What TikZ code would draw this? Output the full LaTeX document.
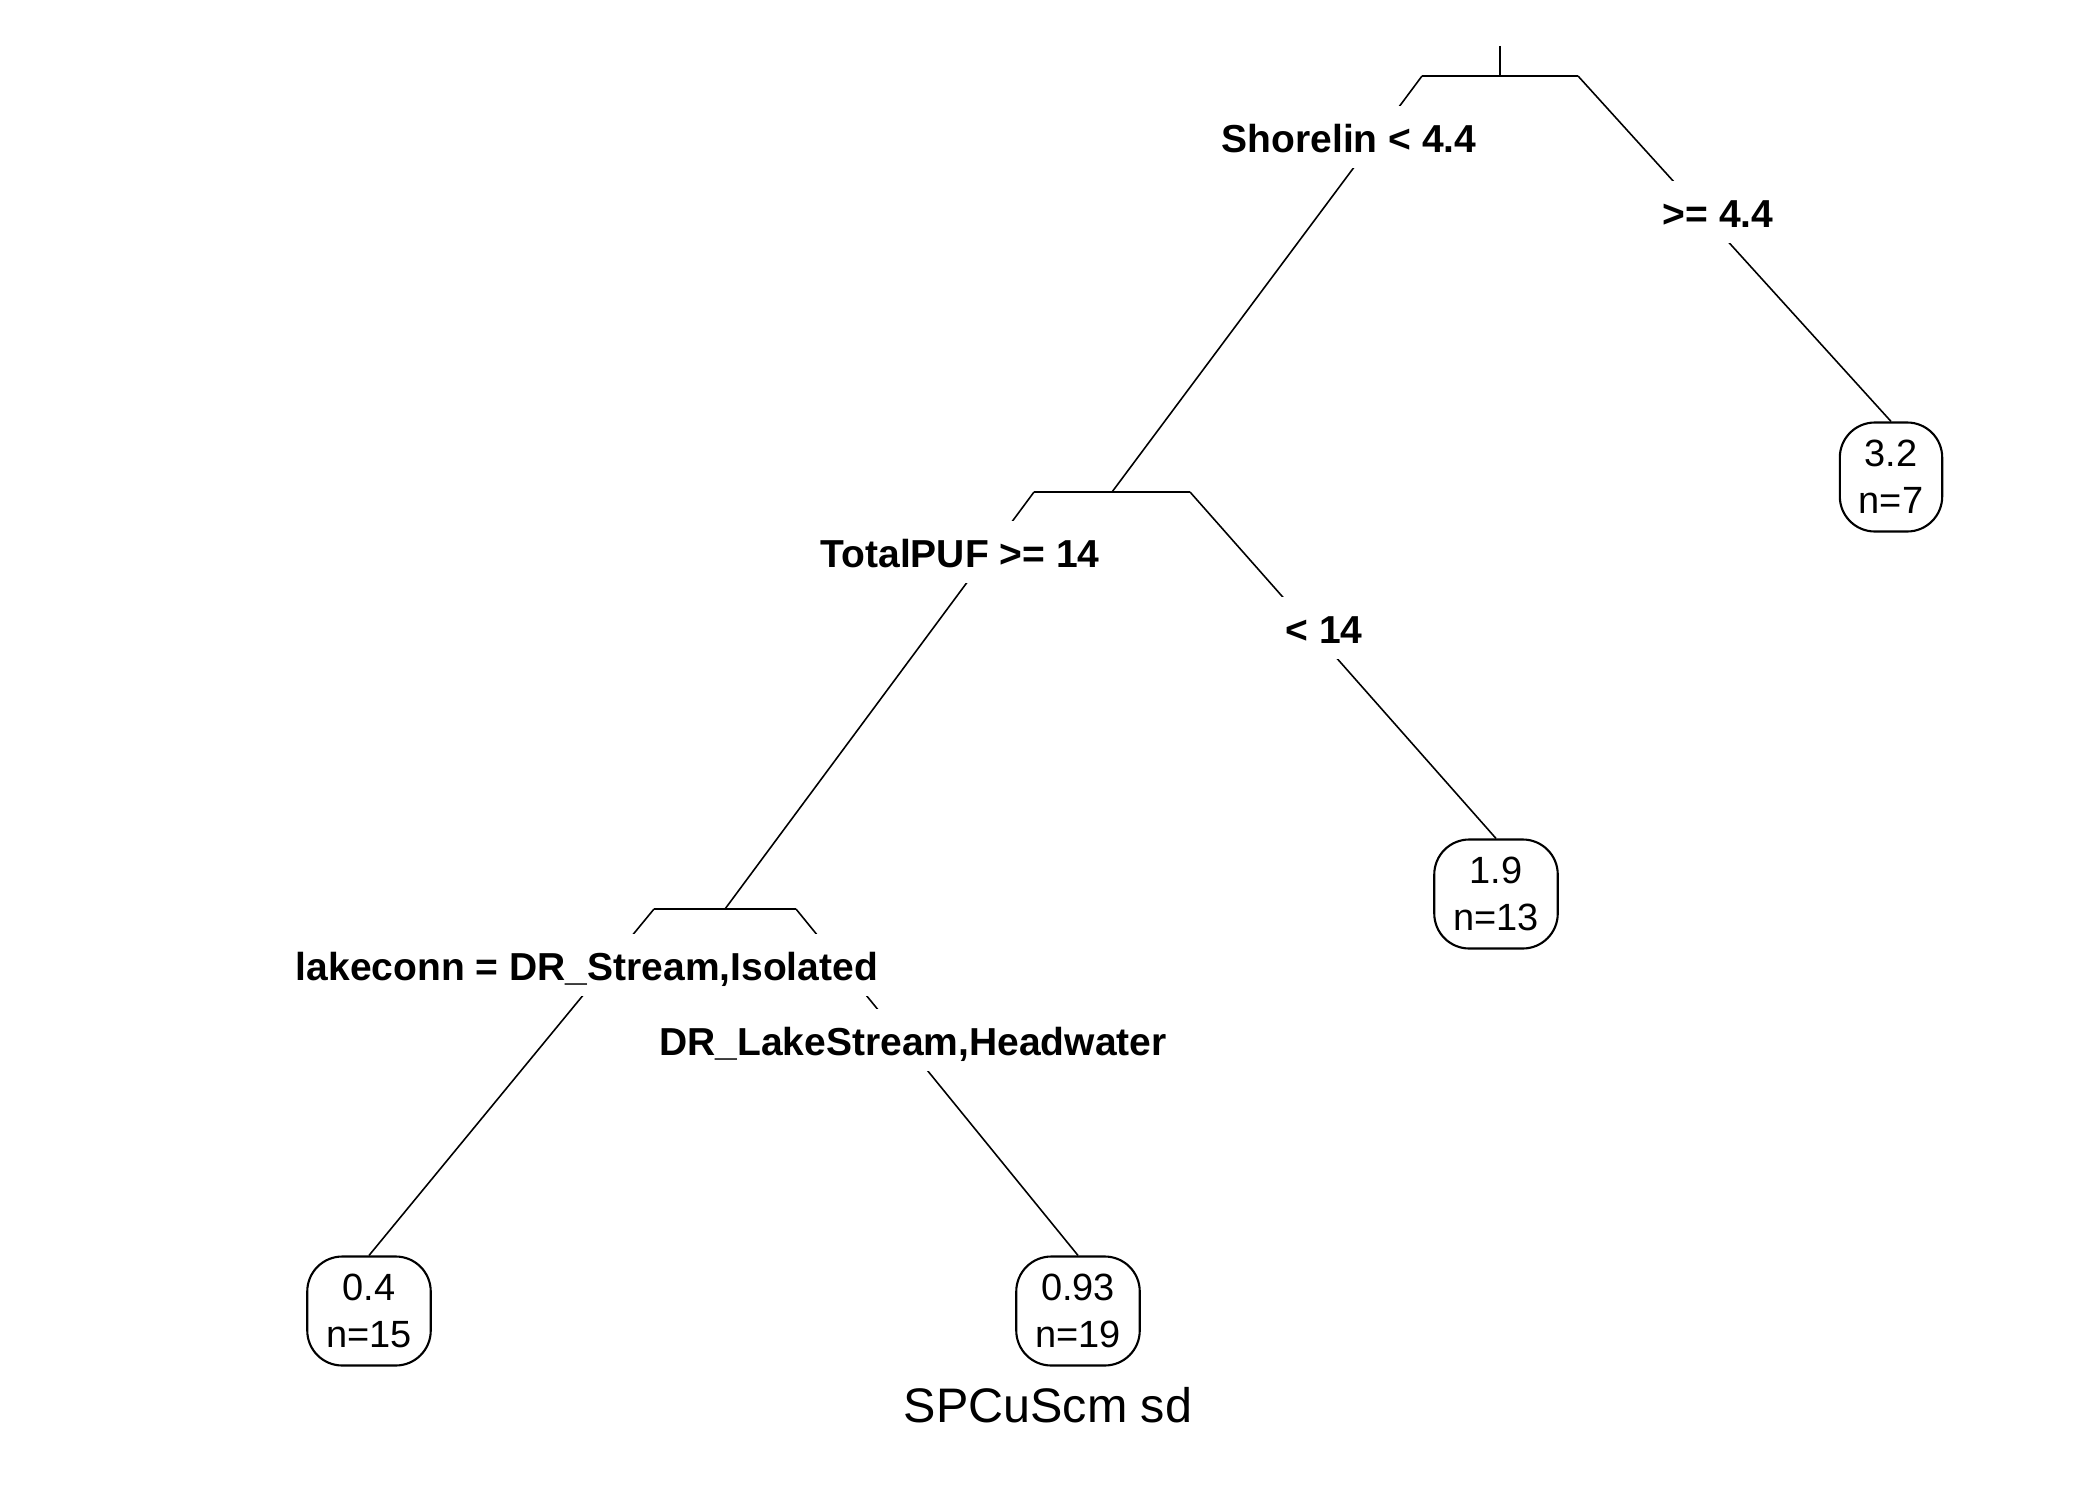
\documentclass[tikz,border=0pt]{standalone}
\usepackage{fontspec}
\setmainfont{Liberation Sans}
\tikzset{
  basic/.style  = {font=\fontsize{11pt}{13.3pt}\selectfont},
  split/.style  = {basic, font=\fontsize{11.1pt}{13.3pt}\selectfont\bfseries, fill=white,
  inner xsep=1mm, inner ysep=1.6mm, text height=3mm, text depth=0pt, anchor=base},
  leaf/.style   = {draw, line width=0.6pt, rounded corners=3.5mm, fill=white, align=center,
  font=\fontsize{10.8pt}{13.4pt}\selectfont, inner xsep=1.9mm, minimum height=10.9mm},
  bar/.style    = {line width=0.6pt},
  branch/.style = {line width=0.45pt}
}

\begin{document}
\begin{tikzpicture}[x=0.1mm, y=-0.1mm]
    \fill[white] (0,0) rectangle (2100,1500);
    \useasboundingbox (0,0) rectangle (2100,1500);

% split bars, one per level
    \coordinate (top) at (1500,46);
    \coordinate (s1)  at (1500,76);
    \coordinate (s1l) at (1422,76);
    \coordinate (s1r) at (1578,76);
    \coordinate (s2)  at (1112,492);
    \coordinate (s2l) at (1034,492);
    \coordinate (s2r) at (1190,492);
    \coordinate (s3)  at (725,909);
    \coordinate (s3l) at (654,909);
    \coordinate (s3r) at (796,909);

    \draw[bar] (top) -- (s1);
    \draw[bar] (s1l) -- (s1r);
    \draw[bar] (s2l) -- (s2r);
    \draw[bar] (s3l) -- (s3r);

% terminal nodes
    \node[leaf] (l1) at (1891,477) {3.2\\n=7};
    \node[leaf] (l2) at (1496,894) {1.9\\n=13};
    \node[leaf] (l3) at (369,1311) {0.4\\n=15};
    \node[leaf] (l4) at (1078,1311) {0.93\\n=19};

% branches from each bar end to its child
    \foreach \from/\to in {s1l/s2, s1r/l1.north, s2l/s3, s2r/l2.north, s3l/l3.north, s3r/l4.north}
    \draw[branch] (\from) -- (\to);

% split labels, drawn over the branches
    \node[split] (c1)  at (1349,152) {Shorelin < 4.4};
    \node[split] (c1r) at (1718,227) {>= 4.4};
    \node[split] (c2)  at (960,567) {TotalPUF >= 14};
    \node[split] (c2r) at (1324,643) {< 14};
    \node[split] (c3)  at (587,980) {lakeconn = DR\_Stream,Isolated};
    \node[split] (c3r) at (913,1055) {DR\_LakeStream,Headwater};

    \node[anchor=base, font=\fontsize{13.8pt}{16pt}\selectfont] (title) at (1048,1422) {SPCuScm sd};
\end{tikzpicture}
\end{document}
